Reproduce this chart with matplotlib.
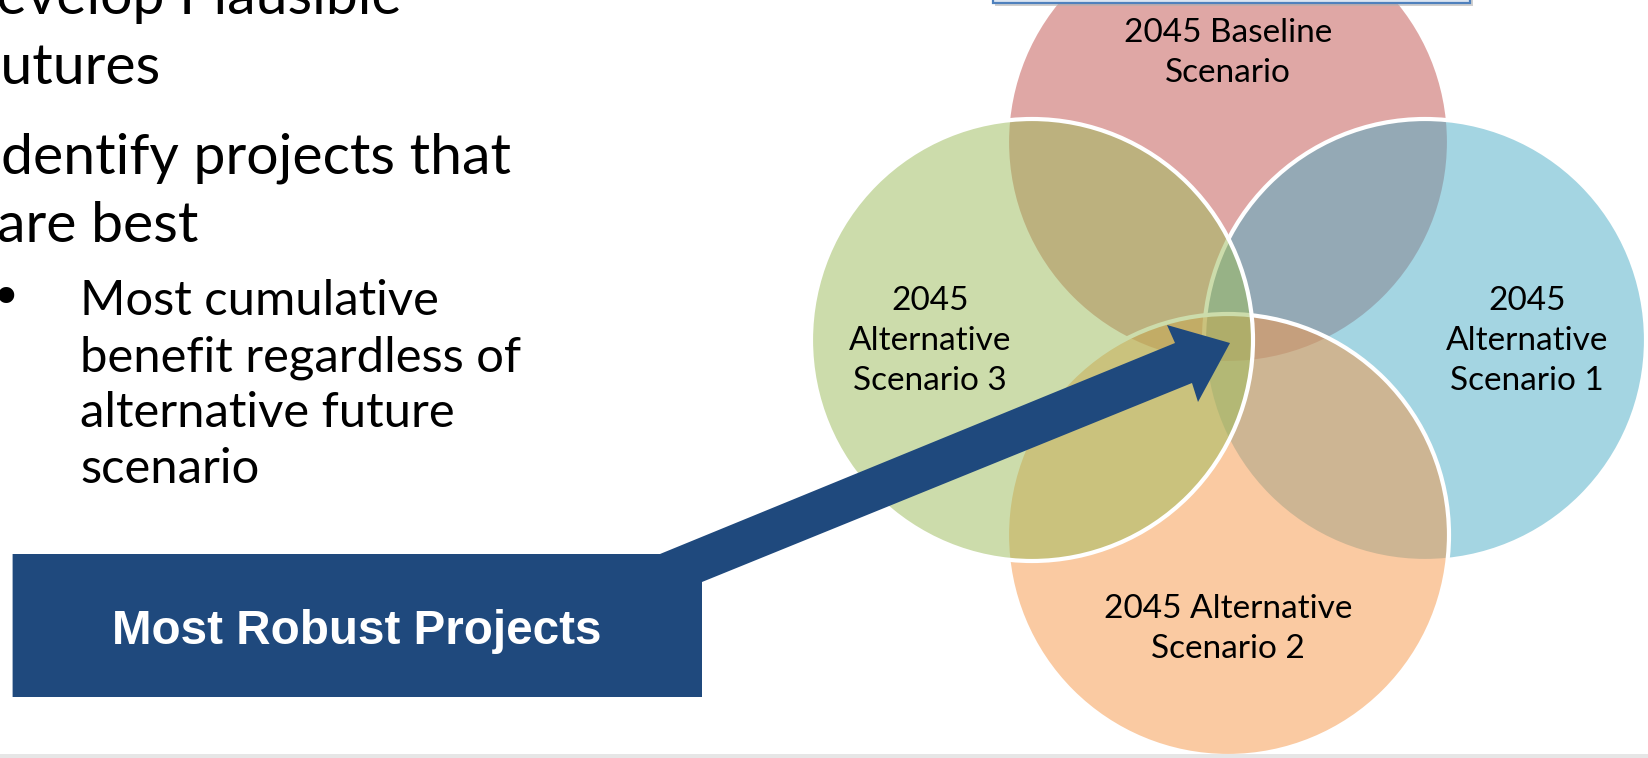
import matplotlib
matplotlib.use("Agg")
import matplotlib.pyplot as plt
from matplotlib.patches import Circle, Polygon, Rectangle
from matplotlib.textpath import TextPath
from matplotlib.font_manager import FontProperties

# ---------------- data ----------------
scenario_labels = [
    ["2045 Baseline", "Scenario"],
    ["2045", "Alternative", "Scenario 1"],
    ["2045 Alternative", "Scenario 2"],
    ["2045", "Alternative", "Scenario 3"],
]
scenario_colors = ["#C0504D", "#4BACC6", "#F79646", "#9BBB59"]
# circle offsets from diagram centre (up, right, down, left)
scenario_offsets = [(0, -197), (197, 1), (0, 196), (-196, 1)]
# label first-baseline positions and centre x
label_pos = [(1228, 42), (1527, 310), (1228, 618), (930, 310)]

level1_lines = [
    # (full text, hidden prefix, x where visible part starts, baseline y)
    ("Develop Plausible", "D", -4, 14),
    ("Futures", "F", 1, 84),
    ("Identify projects that", "I", 1, 173),
    ("are best", "", -3, 242),
]
level2_lines = ["Most cumulative", "benefit regardless of",
                "alternative future", "scenario"]
callout_text = "Most Robust Projects"

# ---------------- layout ----------------
W, H = 1648, 758
fig = plt.figure(figsize=(W / 100, H / 100), dpi=100)
ax = fig.add_axes([0, 0, 1, 1])
ax.set_xlim(0, W)
ax.set_ylim(H, 0)
ax.axis("off")
renderer = fig.canvas.get_renderer()

TXT = ["Lato", "DejaVu Sans"]


def text_w(s, size, family=TXT, weight="normal"):
    t = ax.text(0, 0, s, fontsize=size, family=family, weight=weight)
    w = t.get_window_extent(renderer).width
    t.remove()
    return w


def fit(s, target, family=TXT, weight="normal", ref=20.0):
    return ref * target / text_w(s, ref, family, weight)


# circles
cx0, cy0, R = 1228, 339, 221
for (dx, dy), col in zip(scenario_offsets, scenario_colors):
    rgba = matplotlib.colors.to_rgba(col, 0.5)
    ax.add_patch(Circle((cx0 + dx, cy0 + dy), R, facecolor=rgba,
                        edgecolor="white", linewidth=3.0, zorder=2))

# labels
lab_size = fit("2045 Baseline", 209)
for lines, (lx, ly) in zip(scenario_labels, label_pos):
    for i, s in enumerate(lines):
        ax.text(lx, ly + 40 * i, s, fontsize=lab_size, family=TXT,
                ha="center", va="baseline", color="black", zorder=6)

# top box (cut by top edge)
ax.add_patch(Rectangle((995, -30), 478, 35.5, facecolor="#B0B0B0",
                       edgecolor="none", alpha=0.6, zorder=3))
ax.add_patch(Rectangle((993, -30), 477, 32.5, facecolor="#DCE6F2",
                       edgecolor="#4F81BD", linewidth=1.6, zorder=4))

# callout box + arrow
arrow_pts = [(12.6, 554), (660, 554), (1175, 343), (1167, 325), (1230, 343),
             (1198, 402), (1192, 383), (702, 582), (702, 697), (12.6, 697)]
ax.add_patch(Polygon(arrow_pts, closed=True, facecolor="#1F497D",
                     edgecolor="none", zorder=5))
cs = fit(callout_text, 490, family=["Liberation Sans"], weight="bold")
ax.text(357, 644, callout_text, fontsize=cs, family=["Liberation Sans"],
        weight="bold", color="white", ha="center", va="baseline", zorder=6)

# left bullet text, level 1
l1 = fit("dentify projects that", 511)
for full, prefix, xv, yb in level1_lines:
    off = 0
    if prefix:
        off = text_w(full, l1) - text_w(full[len(prefix):], l1)
    ax.text(xv - off, yb, full, fontsize=l1, family=TXT, ha="left",
            va="baseline", color="black", zorder=6)

# level 2
l2 = fit("benefit regardless of", 443)
for i, s in enumerate(level2_lines):
    ax.text(80, 315 + 56 * i, s, fontsize=l2, family=TXT, ha="left",
            va="baseline", color="black", zorder=6)

# bullet: size so that its ink is ~16 px across, centred at (6, 296)
bfam = "DejaVu Sans"
probe = TextPath((0, 0), "\u2022", size=100, prop=FontProperties(family=bfam))
ext = probe.get_extents()
bpx = 100 * 16.0 / ext.width           # em in pixels
bpt = bpx * 72 / 100
bcx = (ext.x0 + ext.x1) / 2 * bpx / 100
bcy = (ext.y0 + ext.y1) / 2 * bpx / 100
ax.text(6 - bcx, 296 + bcy, "\u2022", fontsize=bpt, family=[bfam],
        ha="left", va="baseline", color="black", zorder=6)

# bottom strip
ax.add_patch(Rectangle((0, 754), W, 5, facecolor="#E6E6E6",
                       edgecolor="none", zorder=7))

fig.savefig("out.png", dpi=100)
